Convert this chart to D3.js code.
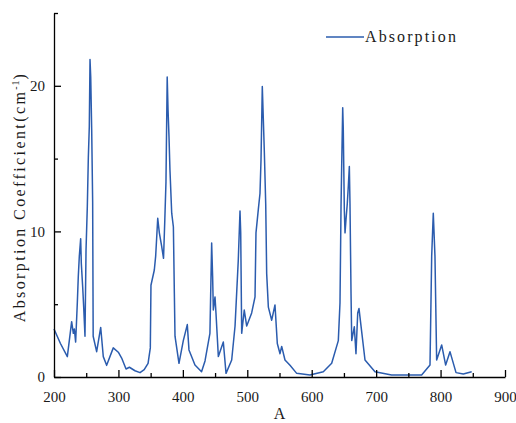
<!DOCTYPE html>
<html>
<head>
<meta charset="utf-8">
<script src="https://cdn.jsdelivr.net/npm/d3@7"></script>
<style>
  html, body { margin: 0; padding: 0; background: #ffffff; }
  svg { display: block; }
  text { font-family: "Liberation Serif", "DejaVu Serif", serif; fill: #1a1a1a; }
</style>
</head>
<body>
<svg id="chart" width="516" height="423"></svg>
<script>
// ---- data ----
const wavelength = [200, 210, 220.7, 227.4, 230, 231.6, 233.6, 236.2, 237.7, 239.3, 241.4, 242.4, 244.5, 246.1, 248.1, 249.7, 251.7, 253.3, 254.8, 255.9, 257, 258.5, 260, 260.8, 266.2, 272.5, 276.5, 281.7, 292, 299.8, 305, 311.8, 317, 325.7, 333.5, 340, 346, 349.5, 350.5, 355.7, 357.8, 359.4, 361, 363.5, 367, 370, 372, 373.8, 375.7, 377, 378.5, 380, 382.7, 385.3, 386.8, 387.8, 394, 400.7, 406.9, 409.5, 418.8, 429, 434.4, 442, 444.7, 446.2, 447.3, 449.9, 451.4, 455.1, 462.8, 467, 475.8, 481, 486, 488.7, 489.8, 491.3, 495.3, 499.1, 506.8, 512, 513.5, 517.1, 519.7, 521.3, 523.3, 524.9, 526.5, 528.6, 530.1, 532.7, 537.9, 543, 546.6, 550.8, 553.4, 558.5, 566.3, 576.7, 597.3, 618, 631, 641.3, 643.9, 645.5, 646.5, 648.1, 649, 650.6, 651.7, 653.2, 655.2, 656.8, 658.4, 659.4, 661, 662.1, 666.1, 668.7, 671.4, 673.4, 676, 682.7, 698.2, 724, 770.6, 783.6, 786.2, 788.7, 791.3, 793.9, 801.7, 807.9, 814.6, 824, 835.3, 848.3];
const absorption = [3.3, 2.3, 1.4, 3.8, 3.0, 3.3, 2.4, 5.1, 6.9, 8.3, 9.5, 7.8, 6.2, 4.8, 2.8, 8.7, 11.7, 15.1, 17.2, 21.8, 20.6, 17.0, 12.0, 2.8, 1.74, 3.4, 1.4, 0.8, 2.0, 1.7, 1.3, 0.55, 0.67, 0.43, 0.3, 0.5, 0.94, 2.0, 6.3, 7.35, 8.3, 9.6, 10.9, 9.9, 9.0, 8.15, 10.8, 13.4, 20.6, 18.35, 16.5, 14.2, 11.25, 10.3, 5.75, 2.8, 0.94, 2.5, 3.6, 1.86, 0.82, 0.36, 1.1, 3.0, 9.2, 6.9, 4.6, 5.5, 4.4, 1.4, 2.4, 0.25, 1.17, 3.5, 8.0, 11.4, 9.9, 3.0, 4.6, 3.5, 4.4, 5.5, 9.9, 11.5, 12.6, 14.9, 19.95, 17.7, 15.4, 11.9, 7.1, 4.8, 3.9, 4.95, 2.3, 1.6, 2.1, 1.17, 0.8, 0.25, 0.14, 0.36, 0.94, 2.5, 5.1, 11.7, 14.45, 18.5, 17.0, 11.5, 9.9, 10.8, 11.9, 13.1, 14.45, 11.9, 5.75, 2.5, 3.45, 1.6, 4.4, 4.7, 3.7, 1.17, 0.36, 0.14, 0.14, 0.82, 8.3, 11.25, 8.3, 1.17, 2.2, 0.82, 1.74, 0.3, 0.2, 0.36];
const xTickValues = [200, 300, 400, 500, 600, 700, 800, 900];
const xMinorTicks = [250, 350, 450, 550, 650, 750, 850];
const yTickValues = [0, 10, 20];
const yMinorTicks = [5, 15, 25];
const seriesName = "Absorption";
const xTitle = "A";
const yTitle = "Absorption Coefficient(cm";

// ---- layout ----
const svg = d3.select("#chart");
const margin = { left: 54, right: 11, top: 13, bottom: 46 };
const W = 516, H = 423;
const x = d3.scaleLinear().domain([200, 900]).range([margin.left, W - margin.right]);
const y = d3.scaleLinear().domain([0, 25]).range([H - margin.bottom, margin.top]);
const lineColor = "#2b5cae";

// line
const data = wavelength.map((w, i) => ({ w, a: absorption[i] }));
svg.append("path")
  .datum(data)
  .attr("fill", "none")
  .attr("stroke", lineColor)
  .attr("stroke-width", 1.5)
  .attr("stroke-linejoin", "round")
  .attr("d", d3.line().x(d => x(d.w)).y(d => y(d.a)));

// axes (ticks inward)
const xAxis = svg.append("g").attr("transform", `translate(0,${y(0)})`)
  .call(d3.axisBottom(x).tickValues(xTickValues).tickSizeInner(-7).tickSizeOuter(0).tickPadding(14));
const xMinor = svg.append("g").attr("transform", `translate(0,${y(0)})`)
  .call(d3.axisBottom(x).tickValues(xMinorTicks).tickSizeInner(-4).tickSizeOuter(0).tickFormat(""));
const yAxis = svg.append("g").attr("transform", `translate(${x(200)},0)`)
  .call(d3.axisLeft(y).tickValues(yTickValues).tickSizeInner(-7).tickSizeOuter(0).tickPadding(9));
const yMinor = svg.append("g").attr("transform", `translate(${x(200)},0)`)
  .call(d3.axisLeft(y).tickValues(yMinorTicks).tickSizeInner(-4).tickSizeOuter(0).tickFormat(""));

[xAxis, xMinor, yAxis, yMinor].forEach(g => {
  g.selectAll("path.domain").attr("stroke", "#000").attr("stroke-width", 1.3);
  g.selectAll("line").attr("stroke", "#000").attr("stroke-width", 1.3);
});
xMinor.select("path.domain").remove();
yMinor.select("path.domain").remove();
xAxis.selectAll("text").attr("font-size", 15).attr("font-family", "Liberation Serif").attr("fill", "#222");
yAxis.selectAll("text").attr("font-size", 15).attr("font-family", "Liberation Serif").attr("fill", "#222");

// axis titles
svg.append("text")
  .attr("x", (x(200) + x(900)) / 2)
  .attr("y", 419)
  .attr("text-anchor", "middle")
  .attr("font-size", 16)
  .text(xTitle);

const yt = svg.append("text")
  .attr("transform", `translate(25,197) rotate(-90)`)
  .attr("text-anchor", "middle")
  .attr("font-size", 16)
  .attr("letter-spacing", "2.4px");
yt.append("tspan").text(yTitle);
yt.append("tspan").attr("dy", -6).attr("font-size", 10).attr("letter-spacing", "1px").text("-1");
yt.append("tspan").attr("dy", 6).text(")");

// legend
const lg = svg.append("g");
lg.append("line")
  .attr("x1", 326).attr("x2", 364).attr("y1", 37).attr("y2", 37)
  .attr("stroke", lineColor).attr("stroke-width", 1.5);
lg.append("text")
  .attr("x", 365).attr("y", 42)
  .attr("font-size", 16)
  .attr("letter-spacing", "2.1px")
  .text(seriesName);
</script>
</body>
</html>
